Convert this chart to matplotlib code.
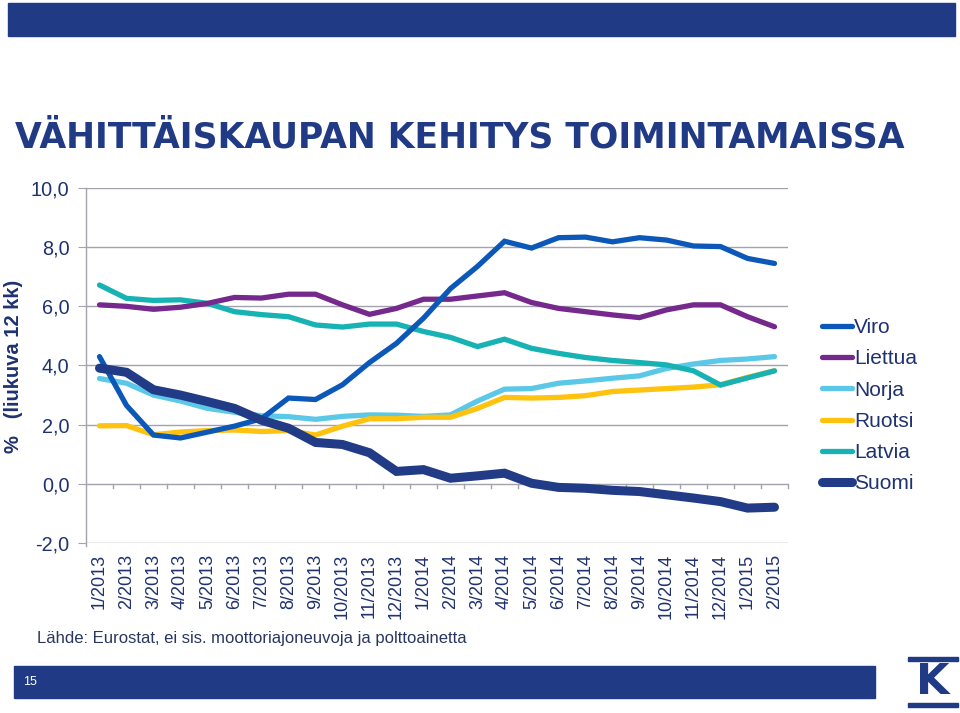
import matplotlib
matplotlib.use("Agg")
import matplotlib.pyplot as plt
from matplotlib.patches import Rectangle
from matplotlib.lines import Line2D

months = ["1/2013", "2/2013", "3/2013", "4/2013", "5/2013", "6/2013", "7/2013",
          "8/2013", "9/2013", "10/2013", "11/2013", "12/2013", "1/2014", "2/2014",
          "3/2014", "4/2014", "5/2014", "6/2014", "7/2014", "8/2014", "9/2014",
          "10/2014", "11/2014", "12/2014", "1/2015", "2/2015"]

viro = [4.3, 2.65, 1.65, 1.55, 1.75, 1.95, 2.2, 2.9, 2.85, 3.35, 4.1, 4.75, 5.6,
        6.6, 7.35, 8.2, 7.97, 8.32, 8.34, 8.18, 8.32, 8.24, 8.04, 8.02, 7.62, 7.45]
liettua = [6.05, 6.0, 5.9, 5.97, 6.1, 6.3, 6.28, 6.41, 6.41, 6.05, 5.73, 5.93, 6.24,
           6.24, 6.35, 6.46, 6.13, 5.93, 5.82, 5.71, 5.62, 5.88, 6.05, 6.05, 5.65, 5.31]
norja = [3.56, 3.4, 3.0, 2.8, 2.55, 2.42, 2.3, 2.27, 2.18, 2.28, 2.33, 2.32, 2.28,
         2.33, 2.8, 3.2, 3.22, 3.4, 3.48, 3.57, 3.65, 3.9, 4.05, 4.17, 4.22, 4.3]
ruotsi = [1.96, 1.97, 1.66, 1.75, 1.8, 1.82, 1.77, 1.8, 1.65, 1.95, 2.2, 2.2, 2.25,
          2.25, 2.55, 2.92, 2.9, 2.92, 2.98, 3.12, 3.17, 3.22, 3.27, 3.35, 3.6, 3.82]
latvia = [6.72, 6.27, 6.2, 6.22, 6.1, 5.82, 5.72, 5.65, 5.37, 5.3, 5.4, 5.4, 5.15,
          4.95, 4.64, 4.89, 4.58, 4.41, 4.27, 4.17, 4.1, 4.02, 3.82, 3.34, 3.58, 3.82]
suomi = [3.91, 3.77, 3.18, 3.0, 2.78, 2.55, 2.15, 1.88, 1.4, 1.33, 1.05, 0.42, 0.48,
         0.19, 0.27, 0.36, 0.02, -0.12, -0.15, -0.22, -0.26, -0.37, -0.48, -0.6, -0.82, -0.79]

series_names = ["Viro", "Liettua", "Norja", "Ruotsi", "Latvia", "Suomi"]
series_values = [viro, liettua, norja, ruotsi, latvia, suomi]
series_colors = ["#0B58B8", "#76298C", "#5CC8E8", "#FFC20E", "#16B2B4", "#213B87"]
series_widths = [3.8, 3.8, 3.8, 3.8, 3.8, 6.5]
draw_order = ["Norja", "Ruotsi", "Latvia", "Liettua", "Viro", "Suomi"]

yticks = [-2, 0, 2, 4, 6, 8, 10]
ytick_labels = ["-2,0", "0,0", "2,0", "4,0", "6,0", "8,0", "10,0"]

NAVY = "#203A86"
TXT = "#1F3270"
GRID = "#A3A3AD"

plt.rcParams['font.family'] = ['Liberation Sans', 'DejaVu Sans']

fig = plt.figure(figsize=(9.6, 7.13), dpi=100)

# banners
fig.patches.append(Rectangle((8/960, 1-36/713), 947/960, 33/713, transform=fig.transFigure,
                             color=NAVY, zorder=0))
fig.patches.append(Rectangle((14/960, 1-698/713), 861/960, 32/713, transform=fig.transFigure,
                             color=NAVY, zorder=0))
fig.text(23/960, 1-682/713, "15", color="white", fontsize=9, va="center", ha="left")

# logo
fig.patches.append(Rectangle((908/960, 1-661/713), 50/960, 4/713, transform=fig.transFigure,
                             color=NAVY, zorder=0))
fig.patches.append(Rectangle((908/960, 1-707/713), 50/960, 4/713, transform=fig.transFigure,
                             color=NAVY, zorder=0))
fig.text(933/960, 1-682/713, "K", color=NAVY, fontsize=31, fontweight="heavy",
         family="DejaVu Sans", va="center", ha="center")

# title
fig.text(15/960, 1-138/713, "VÄHITTÄISKAUPAN KEHITYS TOIMINTAMAISSA", color=NAVY,
         fontsize=24.9, fontweight="bold", family="DejaVu Sans", va="center", ha="left")

ax = fig.add_axes([86/960, 1-543/713, (788-86)/960, (543-188)/713])
x = list(range(len(months)))
for name in draw_order:
    i = series_names.index(name)
    ax.plot(x, series_values[i], color=series_colors[i], lw=series_widths[i],
            solid_capstyle="round", solid_joinstyle="miter", zorder=3)

ax.set_xlim(-0.5, len(months) - 0.5)
ax.set_ylim(-2, 10)
ax.set_yticks(yticks)
ax.set_yticklabels(ytick_labels, color=TXT, fontsize=14.3)
for y in yticks:
    ax.axhline(y, color=GRID, lw=1.0, zorder=1)
# tick marks on zero line
for b in range(1, len(months) + 1):
    ax.plot([b - 0.5, b - 0.5], [0, -0.14], color=GRID, lw=1.0, zorder=1, clip_on=False)

for s in ["top", "right", "bottom"]:
    ax.spines[s].set_visible(False)
ax.spines["left"].set_color(GRID)
ax.spines["left"].set_linewidth(1.0)
ax.spines["left"].set_bounds(-2.1, 10)
ax.tick_params(axis="y", length=6, color=GRID, pad=6)
ax.set_xticks(x)
ax.set_xticklabels(months, rotation=90, color=TXT, fontsize=13, va="top", ha="center")
ax.tick_params(axis="x", length=0, pad=8)

fig.text(14/960, 1-366/713, "%   (liukuva 12 kk)", color=TXT, fontsize=14.5, fontweight="bold",
         rotation=90, va="center", ha="center")

handles = [Line2D([0], [0], color=series_colors[i], lw=series_widths[i], solid_capstyle="round")
           for i in range(len(series_names))]
leg = fig.legend(handles, series_names, loc="upper left", bbox_to_anchor=(822/960, 1-318/713),
                 frameon=False, fontsize=15, handlelength=1.45, handletextpad=0.08,
                 labelspacing=0.59, borderaxespad=0, borderpad=0)
for t in leg.get_texts():
    t.set_color(TXT)

fig.text(37/960, 1-638/713, "Lähde: Eurostat, ei sis. moottoriajoneuvoja ja polttoainetta",
         color="#2A3660", fontsize=12, family=["Liberation Sans Narrow", "Liberation Sans"],
         va="center", ha="left")

fig.savefig("out.png", dpi=100)
